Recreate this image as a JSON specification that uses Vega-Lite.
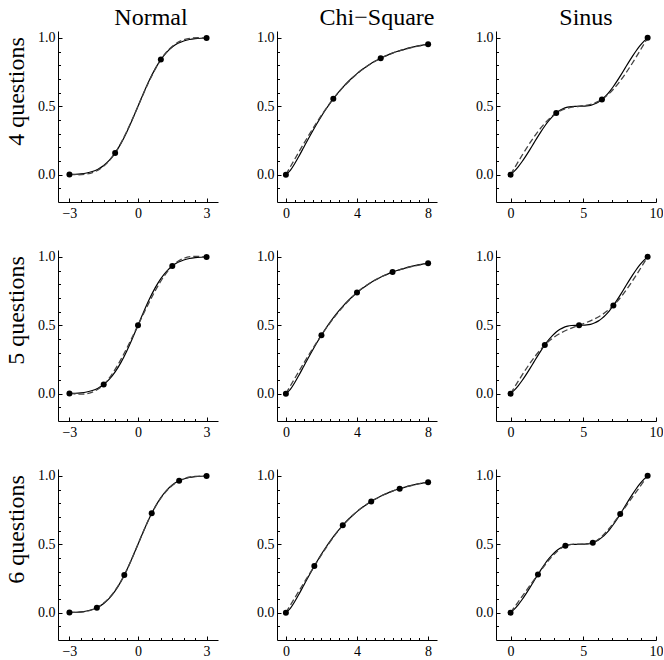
{
"$schema":"https://vega.github.io/schema/vega-lite/v6.json",
"padding":{"left":3,"top":5,"right":0,"bottom":0},
"datasets":{
"curves":[
{"dist":"Normal","x":-3,"y":0.00135},{"dist":"Normal","x":-2.75,"y":0.00298},{"dist":"Normal","x":-2.5,"y":0.00621},{"dist":"Normal","x":-2.25,"y":0.01222},{"dist":"Normal","x":-2,"y":0.02275},{"dist":"Normal","x":-1.75,"y":0.04006},{"dist":"Normal","x":-1.5,"y":0.06681},{"dist":"Normal","x":-1.25,"y":0.10565},{"dist":"Normal","x":-1,"y":0.15866},{"dist":"Normal","x":-0.75,"y":0.22663},{"dist":"Normal","x":-0.5,"y":0.30854},{"dist":"Normal","x":-0.25,"y":0.40129},{"dist":"Normal","x":0,"y":0.5},{"dist":"Normal","x":0.25,"y":0.59871},{"dist":"Normal","x":0.5,"y":0.69146},{"dist":"Normal","x":0.75,"y":0.77337},{"dist":"Normal","x":1,"y":0.84134},{"dist":"Normal","x":1.25,"y":0.89435},{"dist":"Normal","x":1.5,"y":0.93319},{"dist":"Normal","x":1.75,"y":0.95994},{"dist":"Normal","x":2,"y":0.97725},{"dist":"Normal","x":2.25,"y":0.98778},{"dist":"Normal","x":2.5,"y":0.99379},{"dist":"Normal","x":2.75,"y":0.99702},{"dist":"Normal","x":3,"y":0.99865},
{"dist":"Chi","x":0,"y":0},{"dist":"Chi","x":0.25,"y":0.03085},{"dist":"Chi","x":0.5,"y":0.08111},{"dist":"Chi","x":0.75,"y":0.13863},{"dist":"Chi","x":1,"y":0.19875},{"dist":"Chi","x":1.25,"y":0.25896},{"dist":"Chi","x":1.5,"y":0.31772},{"dist":"Chi","x":1.75,"y":0.37414},{"dist":"Chi","x":2,"y":0.42759},{"dist":"Chi","x":2.25,"y":0.47784},{"dist":"Chi","x":2.5,"y":0.52471},{"dist":"Chi","x":2.75,"y":0.5682},{"dist":"Chi","x":3,"y":0.60838},{"dist":"Chi","x":3.25,"y":0.64534},{"dist":"Chi","x":3.5,"y":0.67924},{"dist":"Chi","x":3.75,"y":0.71023},{"dist":"Chi","x":4,"y":0.73853},{"dist":"Chi","x":4.25,"y":0.76429},{"dist":"Chi","x":4.5,"y":0.78771},{"dist":"Chi","x":4.75,"y":0.80897},{"dist":"Chi","x":5,"y":0.82821},{"dist":"Chi","x":5.25,"y":0.84563},{"dist":"Chi","x":5.5,"y":0.86135},{"dist":"Chi","x":5.75,"y":0.87555},{"dist":"Chi","x":6,"y":0.88838},{"dist":"Chi","x":6.25,"y":0.89993},{"dist":"Chi","x":6.5,"y":0.91033},{"dist":"Chi","x":6.75,"y":0.91968},{"dist":"Chi","x":7,"y":0.92809},{"dist":"Chi","x":7.25,"y":0.93566},{"dist":"Chi","x":7.5,"y":0.94245},{"dist":"Chi","x":7.75,"y":0.94853},{"dist":"Chi","x":8,"y":0.95398},
{"dist":"Sinus","x":0,"y":0},{"dist":"Sinus","x":0.2618,"y":0.0259},{"dist":"Sinus","x":0.5236,"y":0.05756},{"dist":"Sinus","x":0.7854,"y":0.09438},{"dist":"Sinus","x":1.0472,"y":0.13543},{"dist":"Sinus","x":1.309,"y":0.17945},{"dist":"Sinus","x":1.5708,"y":0.22502},{"dist":"Sinus","x":1.8326,"y":0.27059},{"dist":"Sinus","x":2.0944,"y":0.31461},{"dist":"Sinus","x":2.3562,"y":0.35566},{"dist":"Sinus","x":2.618,"y":0.39248},{"dist":"Sinus","x":2.8798,"y":0.42414},{"dist":"Sinus","x":3.1416,"y":0.45004},{"dist":"Sinus","x":3.4034,"y":0.46997},{"dist":"Sinus","x":3.6652,"y":0.48414},{"dist":"Sinus","x":3.927,"y":0.49315},{"dist":"Sinus","x":4.1888,"y":0.49793},{"dist":"Sinus","x":4.4506,"y":0.49974},{"dist":"Sinus","x":4.7124,"y":0.5},{"dist":"Sinus","x":4.9742,"y":0.50026},{"dist":"Sinus","x":5.236,"y":0.50207},{"dist":"Sinus","x":5.4978,"y":0.50685},{"dist":"Sinus","x":5.7596,"y":0.51586},{"dist":"Sinus","x":6.0214,"y":0.53003},{"dist":"Sinus","x":6.2832,"y":0.54996},{"dist":"Sinus","x":6.545,"y":0.57586},{"dist":"Sinus","x":6.8068,"y":0.60752},{"dist":"Sinus","x":7.0686,"y":0.64434},{"dist":"Sinus","x":7.3304,"y":0.68538},{"dist":"Sinus","x":7.5922,"y":0.72941},{"dist":"Sinus","x":7.854,"y":0.77498},{"dist":"Sinus","x":8.1158,"y":0.82055},{"dist":"Sinus","x":8.3776,"y":0.86457},{"dist":"Sinus","x":8.6394,"y":0.90562},{"dist":"Sinus","x":8.9012,"y":0.94244},{"dist":"Sinus","x":9.163,"y":0.9741},{"dist":"Sinus","x":9.4248,"y":1}
],
"points":[
{"dist":"Normal","n":4,"x":-3,"y":0.00135},{"dist":"Normal","n":4,"x":-1,"y":0.15866},{"dist":"Normal","n":4,"x":1,"y":0.84134},{"dist":"Normal","n":4,"x":3,"y":0.99865},
{"dist":"Normal","n":5,"x":-3,"y":0.00135},{"dist":"Normal","n":5,"x":-1.5,"y":0.06681},{"dist":"Normal","n":5,"x":0,"y":0.5},{"dist":"Normal","n":5,"x":1.5,"y":0.93319},{"dist":"Normal","n":5,"x":3,"y":0.99865},
{"dist":"Normal","n":6,"x":-3,"y":0.00135},{"dist":"Normal","n":6,"x":-1.8,"y":0.03593},{"dist":"Normal","n":6,"x":-0.6,"y":0.27425},{"dist":"Normal","n":6,"x":0.6,"y":0.72575},{"dist":"Normal","n":6,"x":1.8,"y":0.96407},{"dist":"Normal","n":6,"x":3,"y":0.99865},
{"dist":"Chi","n":4,"x":0,"y":0},{"dist":"Chi","n":4,"x":2.6667,"y":0.55408},{"dist":"Chi","n":4,"x":5.3333,"y":0.85105},{"dist":"Chi","n":4,"x":8,"y":0.95398},
{"dist":"Chi","n":5,"x":0,"y":0},{"dist":"Chi","n":5,"x":2,"y":0.42759},{"dist":"Chi","n":5,"x":4,"y":0.73853},{"dist":"Chi","n":5,"x":6,"y":0.88838},{"dist":"Chi","n":5,"x":8,"y":0.95398},
{"dist":"Chi","n":6,"x":0,"y":0},{"dist":"Chi","n":6,"x":1.6,"y":0.3406},{"dist":"Chi","n":6,"x":3.2,"y":0.63819},{"dist":"Chi","n":6,"x":4.8,"y":0.81296},{"dist":"Chi","n":6,"x":6.4,"y":0.90632},{"dist":"Chi","n":6,"x":8,"y":0.95398},
{"dist":"Sinus","n":4,"x":0,"y":0},{"dist":"Sinus","n":4,"x":3.1416,"y":0.45004},{"dist":"Sinus","n":4,"x":6.2832,"y":0.54996},{"dist":"Sinus","n":4,"x":9.4248,"y":1},
{"dist":"Sinus","n":5,"x":0,"y":0},{"dist":"Sinus","n":5,"x":2.3562,"y":0.35566},{"dist":"Sinus","n":5,"x":4.7124,"y":0.5},{"dist":"Sinus","n":5,"x":7.0686,"y":0.64434},{"dist":"Sinus","n":5,"x":9.4248,"y":1},
{"dist":"Sinus","n":6,"x":0,"y":0},{"dist":"Sinus","n":6,"x":1.885,"y":0.27957},{"dist":"Sinus","n":6,"x":3.7699,"y":0.48832},{"dist":"Sinus","n":6,"x":5.6549,"y":0.51168},{"dist":"Sinus","n":6,"x":7.5398,"y":0.72043},{"dist":"Sinus","n":6,"x":9.4248,"y":1}
]
},
"columns":3,
"spacing":{"row":48,"column":59},
"bounds":"flush",
"concat":[
{"width":160,"height":171,
 "title":{"text":"Normal","font":"Liberation Serif, DejaVu Serif, serif","fontSize":24,"fontWeight":"normal","color":"black","anchor":"middle","frame":"group","baseline":"alphabetic","offset":-18,"dx":13},
 "layer":[
  {"mark":{"type":"rule","color":"#999999","strokeWidth":1},"encoding":{"y":{"datum":0,"type":"quantitative","scale":{"domain":[-0.2,1.05],"nice":false,"zero":false},"axis":null}}},
  {"data":{"name":"curves"},"transform":[{"filter":"datum.dist=='Normal'"}],"mark":{"type":"line","color":"black","strokeWidth":1.2,"interpolate":"monotone"},
   "encoding":{"x":{"field":"x","type":"quantitative","scale":{"domain":[-3.5,3.5],"nice":false,"zero":false},"axis":{"orient":"bottom","values":[-3,0,3],"format":"d","tickSize":-4,"labelPadding":8,"title":null}},
   "y":{"field":"y","type":"quantitative","scale":{"domain":[-0.2,1.05],"nice":false,"zero":false},"axis":{"orient":"left","values":[0,0.5,1],"format":".1f","tickSize":-4,"labelPadding":7,"title":"4 questions","titleX":-35,"titleY":60,"titleAngle":-90,"titleAlign":"center","titleBaseline":"alphabetic"}}}},
  {"data":{"name":"points"},"transform":[{"filter":"datum.dist=='Normal'&&datum.n==4"}],"mark":{"type":"line","color":"#444444","strokeWidth":1.3,"strokeDash":[6,3],"interpolate":"natural"},
   "encoding":{"x":{"field":"x","type":"quantitative","scale":{"domain":[-3.5,3.5],"nice":false,"zero":false},"axis":{"orient":"bottom","values":[-2.5,-2,-1.5,-1,-0.5,0.5,1,1.5,2,2.5],"labels":false,"domain":false,"tickSize":-2.5,"title":null}},
   "y":{"field":"y","type":"quantitative","scale":{"domain":[-0.2,1.05],"nice":false,"zero":false},"axis":{"orient":"left","values":[-0.1,0.1,0.2,0.3,0.4,0.6,0.7,0.8,0.9],"labels":false,"domain":false,"tickSize":-2.5,"title":null}}}},
  {"data":{"name":"points"},"transform":[{"filter":"datum.dist=='Normal'&&datum.n==4"}],"mark":{"type":"circle","size":36,"color":"black","opacity":1},
   "encoding":{"x":{"field":"x","type":"quantitative","scale":{"domain":[-3.5,3.5],"nice":false,"zero":false},"axis":null},"y":{"field":"y","type":"quantitative","scale":{"domain":[-0.2,1.05],"nice":false,"zero":false},"axis":null}}}
 ],
 "resolve":{"axis":{"x":"independent","y":"independent"}}},
{"width":160,"height":171,
 "title":{"text":"Chi−Square","font":"Liberation Serif, DejaVu Serif, serif","fontSize":24,"fontWeight":"normal","color":"black","anchor":"middle","frame":"group","baseline":"alphabetic","offset":-18,"dx":20},
 "layer":[
  {"mark":{"type":"rule","color":"#999999","strokeWidth":1},"encoding":{"y":{"datum":0,"type":"quantitative","scale":{"domain":[-0.2,1.05],"nice":false,"zero":false},"axis":null}}},
  {"data":{"name":"curves"},"transform":[{"filter":"datum.dist=='Chi'"}],"mark":{"type":"line","color":"black","strokeWidth":1.2,"interpolate":"monotone"},
   "encoding":{"x":{"field":"x","type":"quantitative","scale":{"domain":[-0.5,8.5],"nice":false,"zero":false},"axis":{"orient":"bottom","values":[0,4,8],"format":"d","tickSize":-4,"labelPadding":8,"title":null}},
   "y":{"field":"y","type":"quantitative","scale":{"domain":[-0.2,1.05],"nice":false,"zero":false},"axis":{"orient":"left","values":[0,0.5,1],"format":".1f","tickSize":-4,"labelPadding":7,"title":null}}}},
  {"data":{"name":"points"},"transform":[{"filter":"datum.dist=='Chi'&&datum.n==4"}],"mark":{"type":"line","color":"#444444","strokeWidth":1.3,"strokeDash":[6,3],"interpolate":"natural"},
   "encoding":{"x":{"field":"x","type":"quantitative","scale":{"domain":[-0.5,8.5],"nice":false,"zero":false},"axis":{"orient":"bottom","values":[0.5,1,1.5,2,2.5,3,3.5,4.5,5,5.5,6,6.5,7,7.5],"labels":false,"domain":false,"tickSize":-2.5,"title":null}},
   "y":{"field":"y","type":"quantitative","scale":{"domain":[-0.2,1.05],"nice":false,"zero":false},"axis":{"orient":"left","values":[-0.1,0.1,0.2,0.3,0.4,0.6,0.7,0.8,0.9],"labels":false,"domain":false,"tickSize":-2.5,"title":null}}}},
  {"data":{"name":"points"},"transform":[{"filter":"datum.dist=='Chi'&&datum.n==4"}],"mark":{"type":"circle","size":36,"color":"black","opacity":1},
   "encoding":{"x":{"field":"x","type":"quantitative","scale":{"domain":[-0.5,8.5],"nice":false,"zero":false},"axis":null},"y":{"field":"y","type":"quantitative","scale":{"domain":[-0.2,1.05],"nice":false,"zero":false},"axis":null}}}
 ],
 "resolve":{"axis":{"x":"independent","y":"independent"}}},
{"width":160,"height":171,
 "title":{"text":"Sinus","font":"Liberation Serif, DejaVu Serif, serif","fontSize":24,"fontWeight":"normal","color":"black","anchor":"middle","frame":"group","baseline":"alphabetic","offset":-18,"dx":10},
 "layer":[
  {"mark":{"type":"rule","color":"#999999","strokeWidth":1},"encoding":{"y":{"datum":0,"type":"quantitative","scale":{"domain":[-0.2,1.05],"nice":false,"zero":false},"axis":null}}},
  {"data":{"name":"curves"},"transform":[{"filter":"datum.dist=='Sinus'"}],"mark":{"type":"line","color":"black","strokeWidth":1.2,"interpolate":"monotone"},
   "encoding":{"x":{"field":"x","type":"quantitative","scale":{"domain":[-1,10],"nice":false,"zero":false},"axis":{"orient":"bottom","values":[0,5,10],"format":"d","tickSize":-4,"labelPadding":8,"title":null}},
   "y":{"field":"y","type":"quantitative","scale":{"domain":[-0.2,1.05],"nice":false,"zero":false},"axis":{"orient":"left","values":[0,0.5,1],"format":".1f","tickSize":-4,"labelPadding":7,"title":null}}}},
  {"data":{"name":"points"},"transform":[{"filter":"datum.dist=='Sinus'&&datum.n==4"}],"mark":{"type":"line","color":"#444444","strokeWidth":1.3,"strokeDash":[6,3],"interpolate":"natural"},
   "encoding":{"x":{"field":"x","type":"quantitative","scale":{"domain":[-1,10],"nice":false,"zero":false},"axis":{"orient":"bottom","values":[1,2,3,4,6,7,8,9],"labels":false,"domain":false,"tickSize":-2.5,"title":null}},
   "y":{"field":"y","type":"quantitative","scale":{"domain":[-0.2,1.05],"nice":false,"zero":false},"axis":{"orient":"left","values":[-0.1,0.1,0.2,0.3,0.4,0.6,0.7,0.8,0.9],"labels":false,"domain":false,"tickSize":-2.5,"title":null}}}},
  {"data":{"name":"points"},"transform":[{"filter":"datum.dist=='Sinus'&&datum.n==4"}],"mark":{"type":"circle","size":36,"color":"black","opacity":1},
   "encoding":{"x":{"field":"x","type":"quantitative","scale":{"domain":[-1,10],"nice":false,"zero":false},"axis":null},"y":{"field":"y","type":"quantitative","scale":{"domain":[-0.2,1.05],"nice":false,"zero":false},"axis":null}}}
 ],
 "resolve":{"axis":{"x":"independent","y":"independent"}}},
{"width":160,"height":171,
 "layer":[
  {"mark":{"type":"rule","color":"#999999","strokeWidth":1},"encoding":{"y":{"datum":0,"type":"quantitative","scale":{"domain":[-0.2,1.05],"nice":false,"zero":false},"axis":null}}},
  {"data":{"name":"curves"},"transform":[{"filter":"datum.dist=='Normal'"}],"mark":{"type":"line","color":"black","strokeWidth":1.2,"interpolate":"monotone"},
   "encoding":{"x":{"field":"x","type":"quantitative","scale":{"domain":[-3.5,3.5],"nice":false,"zero":false},"axis":{"orient":"bottom","values":[-3,0,3],"format":"d","tickSize":-4,"labelPadding":8,"title":null}},
   "y":{"field":"y","type":"quantitative","scale":{"domain":[-0.2,1.05],"nice":false,"zero":false},"axis":{"orient":"left","values":[0,0.5,1],"format":".1f","tickSize":-4,"labelPadding":7,"title":"5 questions","titleX":-35,"titleY":60,"titleAngle":-90,"titleAlign":"center","titleBaseline":"alphabetic"}}}},
  {"data":{"name":"points"},"transform":[{"filter":"datum.dist=='Normal'&&datum.n==5"}],"mark":{"type":"line","color":"#444444","strokeWidth":1.3,"strokeDash":[6,3],"interpolate":"natural"},
   "encoding":{"x":{"field":"x","type":"quantitative","scale":{"domain":[-3.5,3.5],"nice":false,"zero":false},"axis":{"orient":"bottom","values":[-2.5,-2,-1.5,-1,-0.5,0.5,1,1.5,2,2.5],"labels":false,"domain":false,"tickSize":-2.5,"title":null}},
   "y":{"field":"y","type":"quantitative","scale":{"domain":[-0.2,1.05],"nice":false,"zero":false},"axis":{"orient":"left","values":[-0.1,0.1,0.2,0.3,0.4,0.6,0.7,0.8,0.9],"labels":false,"domain":false,"tickSize":-2.5,"title":null}}}},
  {"data":{"name":"points"},"transform":[{"filter":"datum.dist=='Normal'&&datum.n==5"}],"mark":{"type":"circle","size":36,"color":"black","opacity":1},
   "encoding":{"x":{"field":"x","type":"quantitative","scale":{"domain":[-3.5,3.5],"nice":false,"zero":false},"axis":null},"y":{"field":"y","type":"quantitative","scale":{"domain":[-0.2,1.05],"nice":false,"zero":false},"axis":null}}}
 ],
 "resolve":{"axis":{"x":"independent","y":"independent"}}},
{"width":160,"height":171,
 "layer":[
  {"mark":{"type":"rule","color":"#999999","strokeWidth":1},"encoding":{"y":{"datum":0,"type":"quantitative","scale":{"domain":[-0.2,1.05],"nice":false,"zero":false},"axis":null}}},
  {"data":{"name":"curves"},"transform":[{"filter":"datum.dist=='Chi'"}],"mark":{"type":"line","color":"black","strokeWidth":1.2,"interpolate":"monotone"},
   "encoding":{"x":{"field":"x","type":"quantitative","scale":{"domain":[-0.5,8.5],"nice":false,"zero":false},"axis":{"orient":"bottom","values":[0,4,8],"format":"d","tickSize":-4,"labelPadding":8,"title":null}},
   "y":{"field":"y","type":"quantitative","scale":{"domain":[-0.2,1.05],"nice":false,"zero":false},"axis":{"orient":"left","values":[0,0.5,1],"format":".1f","tickSize":-4,"labelPadding":7,"title":null}}}},
  {"data":{"name":"points"},"transform":[{"filter":"datum.dist=='Chi'&&datum.n==5"}],"mark":{"type":"line","color":"#444444","strokeWidth":1.3,"strokeDash":[6,3],"interpolate":"natural"},
   "encoding":{"x":{"field":"x","type":"quantitative","scale":{"domain":[-0.5,8.5],"nice":false,"zero":false},"axis":{"orient":"bottom","values":[0.5,1,1.5,2,2.5,3,3.5,4.5,5,5.5,6,6.5,7,7.5],"labels":false,"domain":false,"tickSize":-2.5,"title":null}},
   "y":{"field":"y","type":"quantitative","scale":{"domain":[-0.2,1.05],"nice":false,"zero":false},"axis":{"orient":"left","values":[-0.1,0.1,0.2,0.3,0.4,0.6,0.7,0.8,0.9],"labels":false,"domain":false,"tickSize":-2.5,"title":null}}}},
  {"data":{"name":"points"},"transform":[{"filter":"datum.dist=='Chi'&&datum.n==5"}],"mark":{"type":"circle","size":36,"color":"black","opacity":1},
   "encoding":{"x":{"field":"x","type":"quantitative","scale":{"domain":[-0.5,8.5],"nice":false,"zero":false},"axis":null},"y":{"field":"y","type":"quantitative","scale":{"domain":[-0.2,1.05],"nice":false,"zero":false},"axis":null}}}
 ],
 "resolve":{"axis":{"x":"independent","y":"independent"}}},
{"width":160,"height":171,
 "layer":[
  {"mark":{"type":"rule","color":"#999999","strokeWidth":1},"encoding":{"y":{"datum":0,"type":"quantitative","scale":{"domain":[-0.2,1.05],"nice":false,"zero":false},"axis":null}}},
  {"data":{"name":"curves"},"transform":[{"filter":"datum.dist=='Sinus'"}],"mark":{"type":"line","color":"black","strokeWidth":1.2,"interpolate":"monotone"},
   "encoding":{"x":{"field":"x","type":"quantitative","scale":{"domain":[-1,10],"nice":false,"zero":false},"axis":{"orient":"bottom","values":[0,5,10],"format":"d","tickSize":-4,"labelPadding":8,"title":null}},
   "y":{"field":"y","type":"quantitative","scale":{"domain":[-0.2,1.05],"nice":false,"zero":false},"axis":{"orient":"left","values":[0,0.5,1],"format":".1f","tickSize":-4,"labelPadding":7,"title":null}}}},
  {"data":{"name":"points"},"transform":[{"filter":"datum.dist=='Sinus'&&datum.n==5"}],"mark":{"type":"line","color":"#444444","strokeWidth":1.3,"strokeDash":[6,3],"interpolate":"natural"},
   "encoding":{"x":{"field":"x","type":"quantitative","scale":{"domain":[-1,10],"nice":false,"zero":false},"axis":{"orient":"bottom","values":[1,2,3,4,6,7,8,9],"labels":false,"domain":false,"tickSize":-2.5,"title":null}},
   "y":{"field":"y","type":"quantitative","scale":{"domain":[-0.2,1.05],"nice":false,"zero":false},"axis":{"orient":"left","values":[-0.1,0.1,0.2,0.3,0.4,0.6,0.7,0.8,0.9],"labels":false,"domain":false,"tickSize":-2.5,"title":null}}}},
  {"data":{"name":"points"},"transform":[{"filter":"datum.dist=='Sinus'&&datum.n==5"}],"mark":{"type":"circle","size":36,"color":"black","opacity":1},
   "encoding":{"x":{"field":"x","type":"quantitative","scale":{"domain":[-1,10],"nice":false,"zero":false},"axis":null},"y":{"field":"y","type":"quantitative","scale":{"domain":[-0.2,1.05],"nice":false,"zero":false},"axis":null}}}
 ],
 "resolve":{"axis":{"x":"independent","y":"independent"}}},
{"width":160,"height":171,
 "layer":[
  {"mark":{"type":"rule","color":"#999999","strokeWidth":1},"encoding":{"y":{"datum":0,"type":"quantitative","scale":{"domain":[-0.2,1.05],"nice":false,"zero":false},"axis":null}}},
  {"data":{"name":"curves"},"transform":[{"filter":"datum.dist=='Normal'"}],"mark":{"type":"line","color":"black","strokeWidth":1.2,"interpolate":"monotone"},
   "encoding":{"x":{"field":"x","type":"quantitative","scale":{"domain":[-3.5,3.5],"nice":false,"zero":false},"axis":{"orient":"bottom","values":[-3,0,3],"format":"d","tickSize":-4,"labelPadding":8,"title":null}},
   "y":{"field":"y","type":"quantitative","scale":{"domain":[-0.2,1.05],"nice":false,"zero":false},"axis":{"orient":"left","values":[0,0.5,1],"format":".1f","tickSize":-4,"labelPadding":7,"title":"6 questions","titleX":-35,"titleY":60,"titleAngle":-90,"titleAlign":"center","titleBaseline":"alphabetic"}}}},
  {"data":{"name":"points"},"transform":[{"filter":"datum.dist=='Normal'&&datum.n==6"}],"mark":{"type":"line","color":"#444444","strokeWidth":1.3,"strokeDash":[6,3],"interpolate":"natural"},
   "encoding":{"x":{"field":"x","type":"quantitative","scale":{"domain":[-3.5,3.5],"nice":false,"zero":false},"axis":{"orient":"bottom","values":[-2.5,-2,-1.5,-1,-0.5,0.5,1,1.5,2,2.5],"labels":false,"domain":false,"tickSize":-2.5,"title":null}},
   "y":{"field":"y","type":"quantitative","scale":{"domain":[-0.2,1.05],"nice":false,"zero":false},"axis":{"orient":"left","values":[-0.1,0.1,0.2,0.3,0.4,0.6,0.7,0.8,0.9],"labels":false,"domain":false,"tickSize":-2.5,"title":null}}}},
  {"data":{"name":"points"},"transform":[{"filter":"datum.dist=='Normal'&&datum.n==6"}],"mark":{"type":"circle","size":36,"color":"black","opacity":1},
   "encoding":{"x":{"field":"x","type":"quantitative","scale":{"domain":[-3.5,3.5],"nice":false,"zero":false},"axis":null},"y":{"field":"y","type":"quantitative","scale":{"domain":[-0.2,1.05],"nice":false,"zero":false},"axis":null}}}
 ],
 "resolve":{"axis":{"x":"independent","y":"independent"}}},
{"width":160,"height":171,
 "layer":[
  {"mark":{"type":"rule","color":"#999999","strokeWidth":1},"encoding":{"y":{"datum":0,"type":"quantitative","scale":{"domain":[-0.2,1.05],"nice":false,"zero":false},"axis":null}}},
  {"data":{"name":"curves"},"transform":[{"filter":"datum.dist=='Chi'"}],"mark":{"type":"line","color":"black","strokeWidth":1.2,"interpolate":"monotone"},
   "encoding":{"x":{"field":"x","type":"quantitative","scale":{"domain":[-0.5,8.5],"nice":false,"zero":false},"axis":{"orient":"bottom","values":[0,4,8],"format":"d","tickSize":-4,"labelPadding":8,"title":null}},
   "y":{"field":"y","type":"quantitative","scale":{"domain":[-0.2,1.05],"nice":false,"zero":false},"axis":{"orient":"left","values":[0,0.5,1],"format":".1f","tickSize":-4,"labelPadding":7,"title":null}}}},
  {"data":{"name":"points"},"transform":[{"filter":"datum.dist=='Chi'&&datum.n==6"}],"mark":{"type":"line","color":"#444444","strokeWidth":1.3,"strokeDash":[6,3],"interpolate":"natural"},
   "encoding":{"x":{"field":"x","type":"quantitative","scale":{"domain":[-0.5,8.5],"nice":false,"zero":false},"axis":{"orient":"bottom","values":[0.5,1,1.5,2,2.5,3,3.5,4.5,5,5.5,6,6.5,7,7.5],"labels":false,"domain":false,"tickSize":-2.5,"title":null}},
   "y":{"field":"y","type":"quantitative","scale":{"domain":[-0.2,1.05],"nice":false,"zero":false},"axis":{"orient":"left","values":[-0.1,0.1,0.2,0.3,0.4,0.6,0.7,0.8,0.9],"labels":false,"domain":false,"tickSize":-2.5,"title":null}}}},
  {"data":{"name":"points"},"transform":[{"filter":"datum.dist=='Chi'&&datum.n==6"}],"mark":{"type":"circle","size":36,"color":"black","opacity":1},
   "encoding":{"x":{"field":"x","type":"quantitative","scale":{"domain":[-0.5,8.5],"nice":false,"zero":false},"axis":null},"y":{"field":"y","type":"quantitative","scale":{"domain":[-0.2,1.05],"nice":false,"zero":false},"axis":null}}}
 ],
 "resolve":{"axis":{"x":"independent","y":"independent"}}},
{"width":160,"height":171,
 "layer":[
  {"mark":{"type":"rule","color":"#999999","strokeWidth":1},"encoding":{"y":{"datum":0,"type":"quantitative","scale":{"domain":[-0.2,1.05],"nice":false,"zero":false},"axis":null}}},
  {"data":{"name":"curves"},"transform":[{"filter":"datum.dist=='Sinus'"}],"mark":{"type":"line","color":"black","strokeWidth":1.2,"interpolate":"monotone"},
   "encoding":{"x":{"field":"x","type":"quantitative","scale":{"domain":[-1,10],"nice":false,"zero":false},"axis":{"orient":"bottom","values":[0,5,10],"format":"d","tickSize":-4,"labelPadding":8,"title":null}},
   "y":{"field":"y","type":"quantitative","scale":{"domain":[-0.2,1.05],"nice":false,"zero":false},"axis":{"orient":"left","values":[0,0.5,1],"format":".1f","tickSize":-4,"labelPadding":7,"title":null}}}},
  {"data":{"name":"points"},"transform":[{"filter":"datum.dist=='Sinus'&&datum.n==6"}],"mark":{"type":"line","color":"#444444","strokeWidth":1.3,"strokeDash":[6,3],"interpolate":"natural"},
   "encoding":{"x":{"field":"x","type":"quantitative","scale":{"domain":[-1,10],"nice":false,"zero":false},"axis":{"orient":"bottom","values":[1,2,3,4,6,7,8,9],"labels":false,"domain":false,"tickSize":-2.5,"title":null}},
   "y":{"field":"y","type":"quantitative","scale":{"domain":[-0.2,1.05],"nice":false,"zero":false},"axis":{"orient":"left","values":[-0.1,0.1,0.2,0.3,0.4,0.6,0.7,0.8,0.9],"labels":false,"domain":false,"tickSize":-2.5,"title":null}}}},
  {"data":{"name":"points"},"transform":[{"filter":"datum.dist=='Sinus'&&datum.n==6"}],"mark":{"type":"circle","size":36,"color":"black","opacity":1},
   "encoding":{"x":{"field":"x","type":"quantitative","scale":{"domain":[-1,10],"nice":false,"zero":false},"axis":null},"y":{"field":"y","type":"quantitative","scale":{"domain":[-0.2,1.05],"nice":false,"zero":false},"axis":null}}}
 ],
 "resolve":{"axis":{"x":"independent","y":"independent"}}}
],
"config":{
 "view":{"stroke":null},
 "font":"Liberation Serif, DejaVu Serif, serif",
 "axis":{"domainColor":"black","domainWidth":1,"tickColor":"black","tickWidth":1,"grid":false,"labelFont":"Liberation Serif, DejaVu Serif, serif","labelFontSize":14,"labelColor":"black","labelFlush":false,"labelOverlap":false,"titleFont":"Liberation Serif, DejaVu Serif, serif","titleFontSize":24,"titleFontWeight":"normal","titleColor":"black"}
}
}
